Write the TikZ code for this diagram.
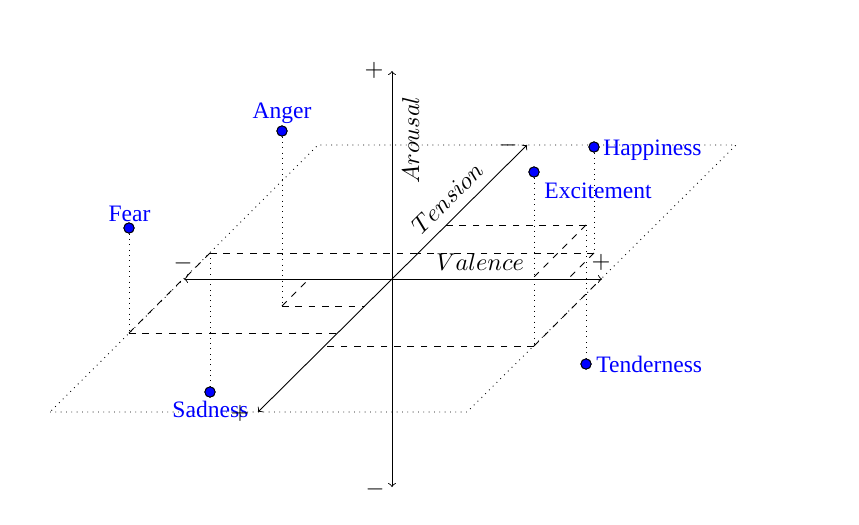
\documentclass[tikz,border=0pt]{standalone}
\usepackage{fontspec}
\setmainfont{Liberation Serif}
\begin{document}
\begin{tikzpicture}[x=0.45pt,y=-0.45pt,
  every node/.style={font=\fontsize{10.6}{12.7}\selectfont},
  axisline/.style={<->},
  projline/.style={dashed},
  dropline/.style={dotted},
  planeline/.style={dotted},
  emo/.style={circle,draw=black,fill=blue,inner sep=0pt,minimum size=4.6pt},
  emolbl/.style={text=blue,inner sep=0pt},
  sgn/.style={inner sep=0pt},
  axlbl/.style={inner sep=0pt,anchor=base}]
\useasboundingbox (0,0) rectangle (859,524);

% plane
\coordinate (c1) at (50,412);
\coordinate (c2) at (467,412);
\coordinate (c3) at (736,145);
\coordinate (c4) at (318,145);
\draw[planeline] (c1) -- (c2) -- (c3) -- (c4) -- cycle;

% axes end points
\coordinate (O) at (392,279);
\coordinate (vL) at (184,279);
\coordinate (vR) at (602,279);
\coordinate (aT) at (392,71);
\coordinate (aB) at (392,487);
\coordinate (tP) at (258,412);
\coordinate (tM) at (527,145);

% bases and their projections on the axes
\coordinate (angerB) at (282,306);
\coordinate (angerT) at (365,306);
\coordinate (angerV) at (309,279);
\coordinate (fearB) at (129,333);
\coordinate (fearT) at (338,333);
\coordinate (fearV) at (183,279);
\coordinate (sadB) at (210,253);
\coordinate (sadT) at (418,253);
\coordinate (sadV) at (184,279);
\coordinate (hapB) at (594,253);
\coordinate (hapT) at (418,253);
\coordinate (hapV) at (568,279);
\coordinate (excB) at (534,346);
\coordinate (excT) at (325,346);
\coordinate (excV) at (601,279);
\coordinate (tenB) at (586,225);
\coordinate (tenT) at (446,225);
\coordinate (tenV) at (532,279);

\foreach \e in {anger,fear,sad,hap,exc,ten}{
  \draw[projline] (\e B) -- (\e T);
  \draw[projline] (\e B) -- (\e V);
}

% emotion points
\node[emo] (anger) at (282,131) {};
\node[emo] (fear) at (129,228) {};
\node[emo] (sad) at (210,392) {};
\node[emo] (hap) at (594,147) {};
\node[emo] (exc) at (534,172) {};
\node[emo] (ten) at (586,364) {};

\draw[dropline] (anger) -- (angerB);
\draw[dropline] (fear) -- (fearB);
\draw[dropline] (sad) -- (sadB);
\draw[dropline] (hap) -- (hapB);
\draw[dropline] (exc) -- (excB);
\draw[dropline] (ten) -- (tenB);

% axes
\draw[axisline] (vL) -- (vR);
\draw[axisline] (aB) -- (aT);
\draw[axisline] (tP) -- (tM);

% redraw points on top
\node[emo] at (anger) {};
\node[emo] at (fear) {};
\node[emo] at (sad) {};
\node[emo] at (hap) {};
\node[emo] at (exc) {};
\node[emo] at (ten) {};

% emotion labels
\node[emolbl,anchor=base] (angerL) at (282,118) {Anger};
\node[emolbl,anchor=base] (fearL) at (129.5,221) {Fear};
\node[emolbl,anchor=base west] (hapL) at (603,155) {Happiness};
\node[emolbl,anchor=base west] (excL) at (544,198) {Excitement};
\node[emolbl,anchor=base west] (tenL) at (596,372) {Tenderness};
\node[emolbl,anchor=base west] (sadL) at (172,417) {Sadness};

% axis labels
\node[axlbl,rotate=90] (arousalL) at (419,140) {$Arousal$};
\node[axlbl,rotate=45] (tensionL) at (453,204) {$Tension$};
\node[axlbl] (valenceL) at (480,270) {$Valence$};

% signs
\node[sgn] (aplus) at (374,70) {$+$};
\node[sgn] (aminus) at (375,489) {$-$};
\node[sgn] (vminus) at (183,263) {$-$};
\node[sgn] (vplus) at (601,262) {$+$};
\node[sgn] (tminus) at (508,145) {$-$};
\node[sgn] (tplus) at (240,413) {$+$};
\end{tikzpicture}
\end{document}
